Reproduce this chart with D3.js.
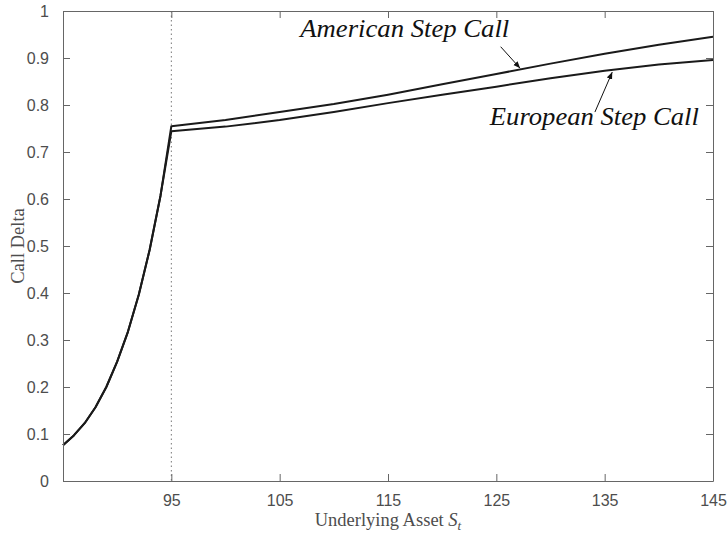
<!DOCTYPE html>
<html>
<head>
<meta charset="utf-8">
<script src="https://cdn.jsdelivr.net/npm/d3@7"></script>
<style>
  body { margin: 0; background: #fff; }
  .tick text { font-family: "Liberation Sans", Arial, sans-serif; font-size: 16px; fill: #4d4d4d; }
  .axlabel { font-family: "Liberation Serif", "Times New Roman", serif; font-size: 18.5px; fill: #4d4d4d; }
  .note { font-family: "Liberation Serif", "Times New Roman", serif; font-style: italic; font-size: 25px; fill: #111; }
</style>
</head>
<body>
<script>

// underlying price grid and deltas
var sLow = [85, 86, 87, 88, 89, 90, 91, 92, 93, 94, 95];
var deltaLow = [0.076, 0.097, 0.123, 0.157, 0.200, 0.254, 0.318, 0.397, 0.492, 0.607, 0.748];

var sHigh = [95, 100, 105, 110, 115, 120, 125, 130, 135, 140, 145];
var americanHigh = [0.755, 0.768, 0.785, 0.802, 0.822, 0.844, 0.866, 0.888, 0.909, 0.928, 0.945];
var europeanHigh = [0.744, 0.754, 0.768, 0.785, 0.804, 0.822, 0.839, 0.857, 0.873, 0.886, 0.896];

var xTicks = [95, 105, 115, 125, 135, 145];
var yTicks = [0, 0.1, 0.2, 0.3, 0.4, 0.5, 0.6, 0.7, 0.8, 0.9, 1];
var barrier = 95;

var width = 728,
    height = 535,
    margin = {top: 11, right: 15, bottom: 54, left: 63},
    iwidth = width - margin.left - margin.right,
    iheight = height - margin.top - margin.bottom,
    axisColor = "#666",
    tickLen = 7;

var xScale = d3.scaleLinear().domain([85, 145]).range([0, iwidth]);
var yScale = d3.scaleLinear().domain([0, 1]).range([iheight, 0]);

var svg = d3.select("body").append("svg")
    .attr("width", width)
    .attr("height", height)
  .append("g")
    .attr("transform", "translate(" + margin.left + "," + margin.top + ")");

// build series: shared rising part then the two branches
function join(sa, va, sb, vb) {
  var out = sa.slice(0, -1).map(function(s, i) { return {s: s, v: va[i]}; });
  return out.concat(sb.map(function(s, i) { return {s: s, v: vb[i]}; }));
}
var american = join(sLow, deltaLow, sHigh, americanHigh);
var european = join(sLow, deltaLow, sHigh, europeanHigh);

// barrier marker
svg.append("line")
    .attr("x1", xScale(barrier)).attr("x2", xScale(barrier))
    .attr("y1", 0).attr("y2", iheight)
    .attr("stroke", "#777")
    .attr("stroke-width", 1)
    .attr("stroke-dasharray", "1.5,3");

var line = d3.line()
    .x(function(d) { return xScale(d.s); })
    .y(function(d) { return yScale(d.v); });

[american, european].forEach(function(series) {
  svg.append("path")
      .datum(series)
      .attr("d", line)
      .attr("fill", "none")
      .attr("stroke", "#1a1a1a")
      .attr("stroke-width", 2)
      .attr("stroke-linejoin", "round");
});

// axes, box style with inward ticks
function styleAxis(g) {
  g.select(".domain").attr("stroke", axisColor);
  g.selectAll(".tick line").attr("stroke", axisColor);
}

svg.append("g")
    .attr("transform", "translate(0," + iheight + ")")
    .call(d3.axisBottom(xScale).tickValues(xTicks).tickSizeInner(-tickLen).tickSizeOuter(0).tickPadding(14))
    .call(styleAxis);

svg.append("g")
    .call(d3.axisTop(xScale).tickValues(xTicks).tickSizeInner(-tickLen).tickSizeOuter(0).tickFormat(""))
    .call(styleAxis);

svg.append("g")
    .call(d3.axisLeft(yScale).tickValues(yTicks).tickFormat(d3.format("~g")).tickSizeInner(-tickLen).tickSizeOuter(0).tickPadding(14))
    .call(styleAxis);

svg.append("g")
    .attr("transform", "translate(" + iwidth + ",0)")
    .call(d3.axisRight(yScale).tickValues(yTicks).tickSizeInner(-tickLen).tickSizeOuter(0).tickFormat(""))
    .call(styleAxis);

// axis labels
var xl = svg.append("text")
    .attr("class", "axlabel")
    .attr("x", iwidth / 2)
    .attr("y", iheight + 45)
    .attr("text-anchor", "middle");
xl.append("tspan").text("Underlying Asset ");
xl.append("tspan").attr("font-style", "italic").text("S");
xl.append("tspan").attr("font-style", "italic").attr("font-size", "13px").attr("dy", 4).text("t");

svg.append("text")
    .attr("class", "axlabel")
    .attr("transform", "rotate(-90)")
    .attr("x", -iheight / 2)
    .attr("y", -39)
    .attr("text-anchor", "middle")
    .text("Call Delta");

// annotations
svg.append("defs").append("marker")
    .attr("id", "head")
    .attr("viewBox", "0 0 10 10")
    .attr("refX", 10).attr("refY", 5)
    .attr("markerWidth", 7).attr("markerHeight", 7)
    .attr("orient", "auto")
  .append("path")
    .attr("d", "M0,1 L10,5 L0,9 z")
    .attr("fill", "#111");

var notes = [
  {text: "American Step Call", s: 106.9, v: 0.945, len: 209},
  {text: "European Step Call", s: 124.4, v: 0.757, len: 209}
];

notes.forEach(function(n) {
  svg.append("text")
      .attr("class", "note")
      .attr("x", xScale(n.s))
      .attr("y", yScale(n.v))
      .attr("textLength", n.len)
      .attr("lengthAdjust", "spacingAndGlyphs")
      .text(n.text);
});

svg.append("line")
    .attr("x1", xScale(125.4)).attr("y1", yScale(0.924))
    .attr("x2", xScale(127.2)).attr("y2", yScale(0.878))
    .attr("stroke", "#111").attr("stroke-width", 1)
    .attr("marker-end", "url(#head)");

svg.append("line")
    .attr("x1", xScale(134.1)).attr("y1", yScale(0.785))
    .attr("x2", xScale(135.7)).attr("y2", yScale(0.870))
    .attr("stroke", "#111").attr("stroke-width", 1)
    .attr("marker-end", "url(#head)");
</script>
</body>
</html>
